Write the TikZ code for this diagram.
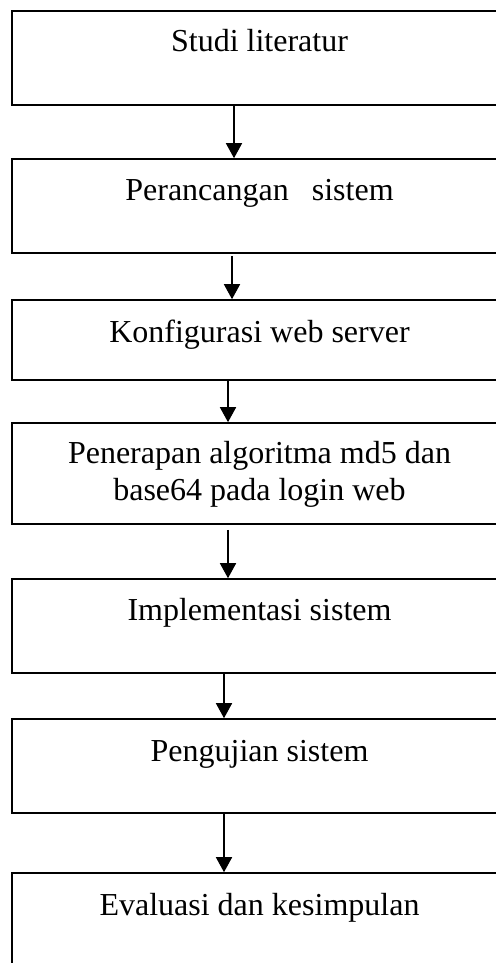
\documentclass[tikz,border=0pt]{standalone}
\usepackage{fontspec}
\setmainfont{Liberation Serif}
\usetikzlibrary{arrows.meta}
\begin{document}
\begin{tikzpicture}[x=0.5pt,y=-0.5pt,
  stagebox/.style={draw=black, line width=0.8pt, inner sep=0pt,
    minimum width=247.5pt},
  lbl/.style={anchor=base, inner sep=0pt, align=center,
    font=\fontsize{16}{18.5}\selectfont},
  flow/.style={line width=0.8pt, -{Triangle[width=8pt,length=7.5pt]}}]
\useasboundingbox (0,0) rectangle (496,963);
\clip (0,0) rectangle (496,963);
\fill[white] (0,0) rectangle (496,963);

% stage boxes (centre x = 259.5, right edges run past the page)
\node[stagebox, minimum height=47pt]   (b1) at (259.5,58)   {};
\node[stagebox, minimum height=47pt]   (b2) at (259.5,206)  {};
\node[stagebox, minimum height=40pt]   (b3) at (259.5,340)  {};
\node[stagebox, minimum height=50.5pt] (b4) at (259.5,473.5){};
\node[stagebox, minimum height=47pt]   (b5) at (259.5,626)  {};
\node[stagebox, minimum height=47pt]   (b6) at (259.5,766)  {};
\node[stagebox, minimum height=70pt]   (b7) at (259.5,943)  {};

% stage labels (base anchor sits on the last line)
\node[lbl] (t1) at (259.5,52)  {Studi literatur};
\node[lbl] (t2) at (259.5,200) {Perancangan\hspace{0.72em}sistem};
\node[lbl] (t3) at (259.5,342) {Konfigurasi web server};
\node[lbl] (t4) at (259.5,500) {Penerapan algoritma md5 dan\\base64 pada login web};
\node[lbl] (t5) at (259.5,620) {Implementasi sistem};
\node[lbl] (t6) at (259.5,761) {Pengujian sistem};
\node[lbl] (t7) at (259.5,915) {Evaluasi dan kesimpulan};

% connectors
\draw[flow] ([xshift=-12.75pt]b1.south) -- ([xshift=-12.75pt]b2.north);
\draw[flow, shorten <=1pt] ([xshift=-13.75pt]b2.south) -- ([xshift=-13.75pt]b3.north);
\draw[flow] ([xshift=-15.75pt]b3.south) -- ([xshift=-15.75pt]b4.north);
\draw[flow, shorten <=2.5pt] ([xshift=-15.75pt]b4.south) -- ([xshift=-15.75pt]b5.north);
\draw[flow] ([xshift=-17.75pt]b5.south) -- ([xshift=-17.75pt]b6.north);
\draw[flow] ([xshift=-17.75pt]b6.south) -- ([xshift=-17.75pt]b7.north);
\end{tikzpicture}
\end{document}
